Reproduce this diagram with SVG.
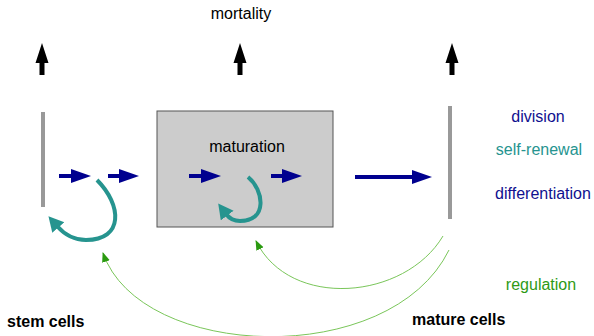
<svg xmlns="http://www.w3.org/2000/svg" width="594" height="336" viewBox="0 0 594 336">
<style>
text{font-family:"Liberation Sans",Arial,sans-serif;font-size:16px}
.blk{fill:#000}
.bold{font-weight:bold}
.bar{stroke:#999;stroke-width:4;fill:none}
.blue{stroke:#00008f;stroke-width:4;fill:none}
.teal{stroke:#26948f;stroke-width:4;fill:none}
.green{stroke:#7ac65a;stroke-width:1;fill:none}
.mort{fill:#000}
</style>
<defs>
<marker id="bh" markerUnits="userSpaceOnUse" markerWidth="22" markerHeight="16" refX="1" refY="7" orient="auto">
<path d="M0,0 L20,7 L0,14 Z" fill="#00008f"/>
</marker>
<marker id="th" markerUnits="userSpaceOnUse" markerWidth="18" markerHeight="18" refX="2" refY="8" orient="auto">
<path d="M0,0 L15,8 L0,16 Z" fill="#26948f"/>
</marker>
<marker id="gh" markerUnits="userSpaceOnUse" markerWidth="12" markerHeight="10" refX="9" refY="4" orient="auto">
<path d="M0,0 L10,4 L0,8 Z" fill="#2a9a10"/>
</marker>
<path id="up" d="M-6.5,20 L0,0 L6.5,20 L2.5,20 L2.5,32 L-2.5,32 L-2.5,20 Z"/>
</defs>

<text x="241" y="19" text-anchor="middle" class="blk">mortality</text>
<g id="mortality-arrows" class="mort">
<use href="#up" x="42" y="43"/>
<use href="#up" x="240" y="43"/>
<use href="#up" x="452" y="43"/>
</g>

<g id="stem-cells">
<line x1="43" y1="112" x2="43" y2="207" class="bar"/>
<text x="7" y="327" class="blk bold">stem cells</text>
</g>

<g id="maturation">
<rect x="157" y="111" width="176" height="116" fill="#cccccc" stroke="#555" stroke-width="1"/>
<text x="247" y="152" text-anchor="middle" class="blk">maturation</text>
</g>

<g id="mature-cells">
<line x1="450" y1="106" x2="450" y2="219" class="bar"/>
<text x="412" y="325" class="blk bold">mature cells</text>
</g>

<g id="legend">
<text x="538" y="122" text-anchor="middle" fill="#10108f">division</text>
<text x="539" y="155" text-anchor="middle" fill="#26948f">self-renewal</text>
<text x="543" y="199" text-anchor="middle" fill="#10108f">differentiation</text>
<text x="541" y="290" text-anchor="middle" fill="#2e9a16">regulation</text>
</g>

<g id="connectors">
<line x1="59" y1="176" x2="72" y2="176" class="blue" marker-end="url(#bh)"/>
<line x1="108" y1="176" x2="120" y2="176" class="blue" marker-end="url(#bh)"/>
<line x1="189" y1="176" x2="202" y2="176" class="blue" marker-end="url(#bh)"/>
<line x1="271" y1="176" x2="283" y2="176" class="blue" marker-end="url(#bh)"/>
<line x1="355" y1="177" x2="413" y2="177" class="blue" marker-end="url(#bh)"/>
<path d="M97,180 C122,205 124,240 86,240 C74,240 64,234 57,226" class="teal" marker-end="url(#th)"/>
<path d="M248,177 C264,190 268,221 240,221 C234,221 229,218 226,214" class="teal" marker-end="url(#th)"/>
<path d="M443,236 C405,300 290,310 256,241" class="green" marker-end="url(#gh)"/>
<path d="M449,250 C390,370 140,360 103,253" class="green" marker-end="url(#gh)"/>
</g>
</svg>
